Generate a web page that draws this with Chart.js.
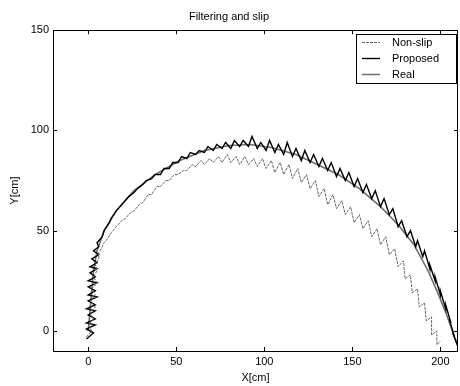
<!DOCTYPE html>
<html>
<head>
<meta charset="utf-8">
<script src="https://cdn.jsdelivr.net/npm/chart.js@4/dist/chart.umd.min.js"></script>
<style>
html,body{margin:0;padding:0;background:#fff;}
#c{display:block;}
</style>
</head>
<body>
<canvas id="c" width="460" height="386"></canvas>
<script>
// ---- data ----
const chartTitle = "Filtering and slip";
const xTitle = "X[cm]";
const yTitle = "Y[cm]";
const xTicks = [0, 50, 100, 150, 200];
const yTicks = [0, 50, 100, 150];
const xRange = [-20, 210];
const yRange = [-10, 150];
const seriesNames = ["Non-slip", "Proposed", "Real"];

const nonSlipX = [-1,2,0,3,1,4,1,4,2,5,3,5,4,6,6,8,9,11,13,15,17,19,21,24,26,29,31,34,36,39,41,44,46,49,51,54,56,59,61,64,66,69,71,74,76,79,81,84,86,89,91,94,96,99,101,104,106,109,111,114,116,119,121,124,126,129,131,134,136,139,141,144,146,149,151,154,156,159,161,164,166,169,171,174,176,179,180,183,184,187,188,191,192,195,195,198,198,200];
const nonSlipY = [-3,0,3,6,9,12,15,18,21,24,27,30,33,36,39,42,44,46,49,51,53,55,56,59,60,63,64,68,68,72,72,75,75,78,78,80,80,83,82,85,83,86,84,87,84,88,84,87,83,87,83,86,82,86,81,85,79,84,78,83,76,81,74,78,71,75,67,71,63,68,61,65,58,62,54,58,51,55,47,51,43,47,38,41,32,35,26,28,19,21,12,14,5,7,-2,0,-7,-5];

const proposedX = [-1,3,-1,4,-1,4,0,4,-1,4,0,5,0,4,0,5,0,4,1,5,1,5,2,6,3,6,5,8,9,12,13,16,18,21,23,26,28,31,33,36,38,41,43,46,48,51,53,56,58,61,63,66,68,71,73,76,78,81,83,86,88,91,93,96,98,101,103,106,108,111,113,116,118,121,123,126,128,131,133,136,138,141,143,146,148,151,153,156,158,161,163,166,168,171,173,176,178,181,183,186,187,190,191,194,194,197,197,200,200,203,203,206,205,208,207,210];
const proposedY = [-4,-1,1,3,4,6,8,10,11,13,15,17,18,20,22,24,25,27,29,31,32,34,36,38,40,42,44,47,50,54,56,60,62,65,67,69,71,73,75,76,78,78,81,81,84,84,87,86,89,88,90,89,92,90,93,91,94,91,95,92,95,92,97,91,94,90,95,89,93,88,94,87,91,85,90,84,88,82,86,80,84,77,81,75,79,72,76,69,73,66,70,62,66,58,61,52,55,47,50,42,45,37,40,31,33,25,27,18,20,11,13,4,6,-3,-1,-8,-6];

const realX = [0,1,2,3,5,9,16,26,38,52,66,80,92,104,118,130,142,154,166,176,185,193,199,204,208,210];
const realY = [0,10,20,30,40,50,60,70,78,85,90,92.5,93,91.5,88,83,78,71,62,53,43,30,18,7,-3,-7];

const toPts = (xs, ys) => xs.map((x, i) => ({x: x, y: ys[i]}));

const FONT = "'Liberation Sans', Arial, Helvetica, sans-serif";

// inward ticks + box, like the original figure
const boxPlugin = {
  id: 'boxTicks',
  afterDatasetsDraw(chart) {
    const {ctx, chartArea: a, scales} = chart;
    ctx.save();
    ctx.strokeStyle = '#000';
    ctx.lineWidth = 1;
    ctx.strokeRect(Math.round(a.left) + 0.5, Math.round(a.top) + 0.5,
                   Math.round(a.right - a.left) - 1, Math.round(a.bottom - a.top));
    const L = 4;
    ctx.beginPath();
    scales.x.ticks.forEach(t => {
      const px = Math.round(scales.x.getPixelForValue(t.value)) + 0.5;
      ctx.moveTo(px, a.bottom); ctx.lineTo(px, a.bottom - L);
      ctx.moveTo(px, a.top); ctx.lineTo(px, a.top + L);
    });
    scales.y.ticks.forEach(t => {
      const py = Math.round(scales.y.getPixelForValue(t.value)) + 0.5;
      ctx.moveTo(a.left, py); ctx.lineTo(a.left + L, py);
      ctx.moveTo(a.right, py); ctx.lineTo(a.right - L, py);
    });
    ctx.stroke();
    ctx.restore();
  },
  afterDraw(chart) {
    // legend box inside the axes, top right
    const {ctx, chartArea: a} = chart;
    const ds = chart.data.datasets;
    const bx = a.right - 102, by = a.top + 4, bw = 100, bh = 49;
    ctx.save();
    ctx.fillStyle = '#fff';
    ctx.fillRect(bx, by, bw, bh);
    ctx.strokeStyle = '#000';
    ctx.lineWidth = 1;
    ctx.strokeRect(Math.round(bx) + 0.5, Math.round(by) + 0.5, bw, bh);
    ctx.font = '11px ' + FONT;
    ctx.textBaseline = 'middle';
    ctx.textAlign = 'left';
    ds.forEach((d, i) => {
      const y = Math.round(by + 8 + i * 15.7) + 0.5;
      ctx.beginPath();
      ctx.strokeStyle = d.borderColor;
      ctx.lineWidth = Math.min(d.borderWidth, 1.5);
      ctx.setLineDash(d.borderDash || []);
      ctx.moveTo(bx + 6, y); ctx.lineTo(bx + 24, y);
      ctx.stroke();
      ctx.setLineDash([]);
      ctx.fillStyle = '#000';
      ctx.fillText(d.label, bx + 36, y);
    });
    ctx.restore();
  }
};

new Chart(document.getElementById('c'), {
  type: 'scatter',
  data: {
    datasets: [
      {label: seriesNames[0], data: toPts(nonSlipX, nonSlipY), showLine: true, pointRadius: 0,
       borderColor: '#666666', borderWidth: 1, borderDash: [3, 1], tension: 0},
      {label: seriesNames[1], data: toPts(proposedX, proposedY), showLine: true, pointRadius: 0,
       borderColor: '#000000', borderWidth: 1.4, tension: 0},
      {label: seriesNames[2], data: toPts(realX, realY), showLine: true, pointRadius: 0,
       borderColor: '#6e6e6e', borderWidth: 1.6, tension: 0}
    ]
  },
  options: {
    responsive: false,
    animation: false,
    devicePixelRatio: 1,
    layout: {padding: {left: 0, right: 2, top: 0, bottom: 0}},
    plugins: {
      legend: {display: false},
      tooltip: {enabled: false},
      title: {display: true, text: chartTitle, color: '#000',
              font: {family: FONT, size: 11, weight: 'normal'},
              padding: {top: 10, bottom: 7}}
    },
    scales: {
      x: {
        type: 'linear', min: xRange[0], max: xRange[1],
        afterBuildTicks: s => { s.ticks = xTicks.map(v => ({value: v})); },
        afterFit: s => { s.height = 35; },
        border: {display: false},
        grid: {display: false, drawTicks: false},
        ticks: {color: '#000', font: {family: FONT, size: 11}, padding: 4, maxRotation: 0},
        title: {display: true, text: xTitle, color: '#000', font: {family: FONT, size: 11}, padding: {top: 2, bottom: 1}}
      },
      y: {
        type: 'linear', min: yRange[0], max: yRange[1],
        afterBuildTicks: s => { s.ticks = yTicks.map(v => ({value: v})); },
        afterFit: s => { s.width = 53; },
        border: {display: false},
        grid: {display: false, drawTicks: false},
        ticks: {color: '#000', font: {family: FONT, size: 11}, padding: 4},
        title: {display: true, text: yTitle, color: '#000', font: {family: FONT, size: 11}, padding: {top: 8, bottom: 2}}
      }
    }
  },
  plugins: [boxPlugin]
});
</script>
</body>
</html>
